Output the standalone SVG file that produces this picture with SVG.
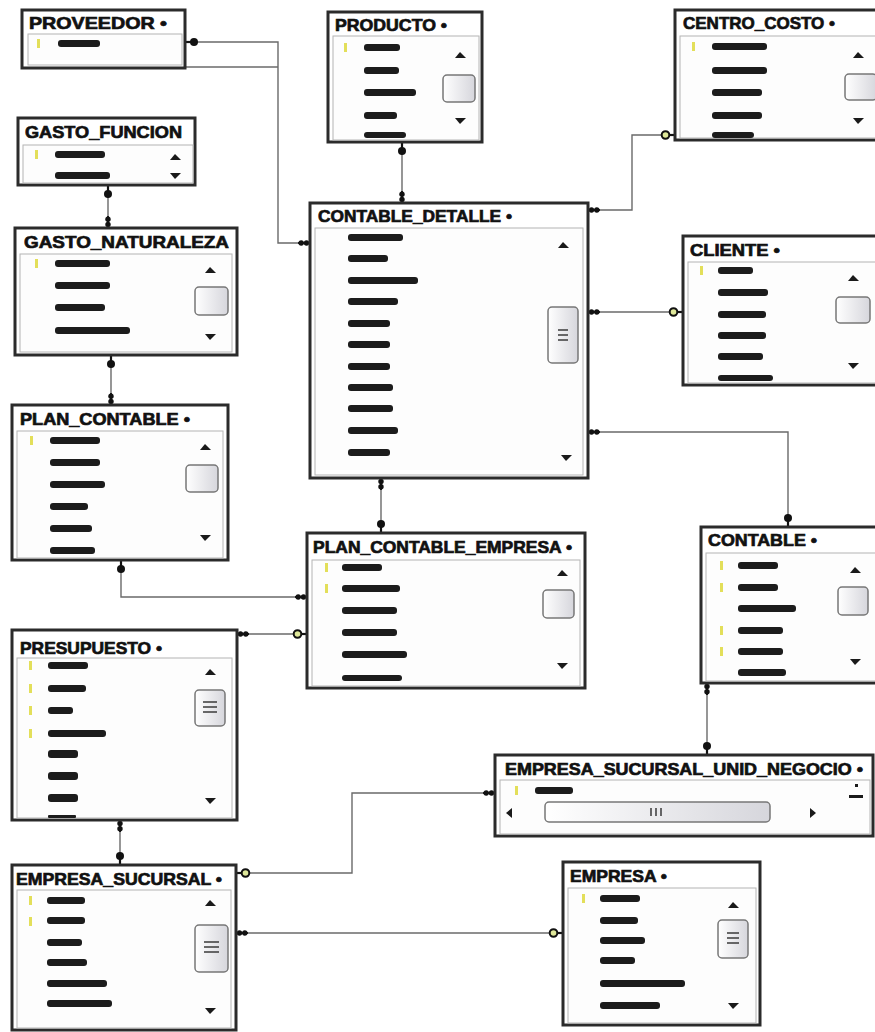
<svg xmlns="http://www.w3.org/2000/svg" width="875" height="1032" viewBox="0 0 875 1032">
<defs>
<style>
.box{fill:#fff;stroke:#2b2b2b;stroke-width:3}
.panel{fill:#fdfdfd;stroke:#b4b4b4;stroke-width:1}
.title{font-family:"Liberation Sans",Arial,sans-serif;font-weight:bold;font-size:17px;fill:#111;stroke:#111;stroke-width:0.7}
.col{fill:#1c1c1c}
.key{fill:#e3df5a}
.arr{fill:#1a1a1a}
.thumb{fill:url(#tg);stroke:#777;stroke-width:1.5}
.grip{stroke:#444;stroke-width:1.6}
.conn{fill:none;stroke:#6a6a6a;stroke-width:1.4;marker-start:url(#keyF);marker-end:url(#inf)}
.connH{fill:none;stroke:#6a6a6a;stroke-width:1.4;marker-start:url(#keyH);marker-end:url(#inf)}
</style>
<linearGradient id="tg" x1="0" y1="0" x2="1" y2="0">
<stop offset="0" stop-color="#ffffff"/>
<stop offset="1" stop-color="#d6d6dc"/>
</linearGradient>
<marker id="keyF" markerUnits="userSpaceOnUse" orient="auto-start-reverse" refX="0" refY="0" markerWidth="1" markerHeight="1" overflow="visible">
<line x1="-6" y1="0" x2="0" y2="0" stroke="#111" stroke-width="2.2"/>
<circle cx="-9" cy="0" r="4" fill="#111"/>
</marker>
<marker id="keyH" markerUnits="userSpaceOnUse" orient="auto-start-reverse" refX="0" refY="0" markerWidth="1" markerHeight="1" overflow="visible">
<line x1="-6" y1="0" x2="0" y2="0" stroke="#111" stroke-width="2.2"/>
<circle cx="-9.5" cy="0" r="3.8" fill="#dfe89a" stroke="#111" stroke-width="2"/>
</marker>
<marker id="inf" markerUnits="userSpaceOnUse" orient="auto" refX="0" refY="0" markerWidth="1" markerHeight="1" overflow="visible">
<line x1="-12" y1="0" x2="0" y2="0" stroke="#111" stroke-width="1.8"/>
<circle cx="-3.5" cy="0" r="2.7" fill="#111"/>
<circle cx="-8.8" cy="0" r="2.7" fill="#111"/>
</marker>
</defs>
<rect width="875" height="1032" fill="#fff"/>

<g id="connectors">
<path class="conn" d="M185,42 H278 V243 H310"/>
<path d="M185,67 H278" fill="none" stroke="#6a6a6a" stroke-width="1.4"/>
<path class="conn" d="M402,142 V203"/>
<path class="connH" d="M675,135 H632 V210 H588"/>
<path class="conn" d="M108,185 V228"/>
<path class="conn" d="M111,355 V405"/>
<path class="connH" d="M683,312 H588"/>
<path class="conn" d="M788,527 V432 H588"/>
<path class="conn" d="M381,533 V478"/>
<path class="conn" d="M121,560 V597 H307"/>
<path class="connH" d="M307,634 H237"/>
<path class="conn" d="M707,755 V683"/>
<path class="conn" d="M120,865 V820"/>
<path class="connH" d="M236,873 H352 V793 H495"/>
<path class="connH" d="M563,933 H236"/>
</g>

<g id="t-proveedor">
<rect class="box" x="22" y="10" width="163" height="58"/>
<text class="title" x="29" y="29" textLength="138" lengthAdjust="spacingAndGlyphs">PROVEEDOR •</text>
<rect class="panel" x="28" y="34" width="154" height="31"/>
<rect class="key" x="37" y="39" width="3" height="9"/>
<rect class="col" x="58" y="40" width="42" height="7" rx="3"/>
</g>

<g id="t-producto">
<rect class="box" x="328" y="12" width="154" height="130"/>
<text class="title" x="335" y="31" textLength="112" lengthAdjust="spacingAndGlyphs">PRODUCTO •</text>
<rect class="panel" x="333" y="36" width="146" height="104"/>
<rect class="key" x="344" y="43" width="3" height="9"/>
<rect class="col" x="364" y="44" width="36" height="7" rx="3"/>
<rect class="col" x="364" y="67" width="35" height="7" rx="3"/>
<rect class="col" x="364" y="89" width="52" height="7" rx="3"/>
<rect class="col" x="364" y="112" width="33" height="7" rx="3"/>
<rect class="col" x="364" y="132" width="42" height="6" rx="3"/>
<path class="arr" d="M455,58 L460,52 L466,58 Z"/>
<rect class="thumb" x="443" y="75" width="32" height="27" rx="4"/>
<path class="arr" d="M455,118 L466,118 L460,124 Z"/>
</g>

<g id="t-centro-costo">
<rect class="box" x="675" y="10" width="205" height="130"/>
<text class="title" x="683" y="29" textLength="152" lengthAdjust="spacingAndGlyphs">CENTRO_COSTO •</text>
<rect class="panel" x="680" y="36" width="197" height="102"/>
<rect class="key" x="692" y="42" width="3" height="9"/>
<rect class="col" x="712" y="43" width="55" height="7" rx="3"/>
<rect class="col" x="712" y="67" width="55" height="7" rx="3"/>
<rect class="col" x="712" y="89" width="50" height="7" rx="3"/>
<rect class="col" x="712" y="112" width="50" height="7" rx="3"/>
<rect class="col" x="712" y="132" width="42" height="6" rx="3"/>
<path class="arr" d="M853,58 L858,52 L864,58 Z"/>
<rect class="thumb" x="845" y="74" width="32" height="26" rx="4"/>
<path class="arr" d="M853,118 L864,118 L858,124 Z"/>
</g>

<g id="t-gasto-funcion">
<rect class="box" x="18" y="118" width="177" height="67"/>
<text class="title" x="25" y="138" textLength="157" lengthAdjust="spacingAndGlyphs">GASTO_FUNCION</text>
<rect class="panel" x="23" y="145" width="170" height="38"/>
<rect class="key" x="35" y="150" width="3" height="9"/>
<rect class="col" x="55" y="151" width="50" height="7" rx="3"/>
<rect class="col" x="55" y="172" width="55" height="7" rx="3"/>
<path class="arr" d="M170,160 L175,154 L181,160 Z"/>
<path class="arr" d="M170,173 L181,173 L175,179 Z"/>
</g>

<g id="t-gasto-naturaleza">
<rect class="box" x="15" y="228" width="222" height="127"/>
<text class="title" x="24" y="248" textLength="205" lengthAdjust="spacingAndGlyphs">GASTO_NATURALEZA</text>
<rect class="panel" x="20" y="254" width="212" height="98"/>
<rect class="key" x="35" y="259" width="3" height="9"/>
<rect class="col" x="55" y="260" width="55" height="7" rx="3"/>
<rect class="col" x="55" y="282" width="55" height="7" rx="3"/>
<rect class="col" x="55" y="304" width="50" height="7" rx="3"/>
<rect class="col" x="55" y="327" width="75" height="7" rx="3"/>
<path class="arr" d="M205,273 L210,267 L216,273 Z"/>
<rect class="thumb" x="195" y="287" width="33" height="28" rx="4"/>
<path class="arr" d="M205,334 L216,334 L210,340 Z"/>
</g>

<g id="t-plan-contable">
<rect class="box" x="12" y="405" width="216" height="155"/>
<text class="title" x="20" y="425" textLength="170" lengthAdjust="spacingAndGlyphs">PLAN_CONTABLE •</text>
<rect class="panel" x="17" y="431" width="206" height="127"/>
<rect class="key" x="30" y="436" width="3" height="9"/>
<rect class="col" x="50" y="437" width="50" height="7" rx="3"/>
<rect class="col" x="50" y="459" width="50" height="7" rx="3"/>
<rect class="col" x="50" y="481" width="55" height="7" rx="3"/>
<rect class="col" x="50" y="503" width="38" height="7" rx="3"/>
<rect class="col" x="50" y="525" width="42" height="7" rx="3"/>
<rect class="col" x="50" y="547" width="45" height="7" rx="3"/>
<path class="arr" d="M200,450 L205,444 L211,450 Z"/>
<rect class="thumb" x="186" y="465" width="32" height="27" rx="4"/>
<path class="arr" d="M200,535 L211,535 L205,541 Z"/>
</g>

<g id="t-contable-detalle">
<rect class="box" x="310" y="203" width="278" height="275"/>
<text class="title" x="318" y="222" textLength="194" lengthAdjust="spacingAndGlyphs">CONTABLE_DETALLE •</text>
<rect class="panel" x="315" y="228" width="268" height="247"/>
<rect class="col" x="348" y="234" width="55" height="7" rx="3"/>
<rect class="col" x="348" y="255" width="40" height="7" rx="3"/>
<rect class="col" x="348" y="277" width="70" height="7" rx="3"/>
<rect class="col" x="348" y="298" width="50" height="7" rx="3"/>
<rect class="col" x="348" y="320" width="42" height="7" rx="3"/>
<rect class="col" x="348" y="341" width="42" height="7" rx="3"/>
<rect class="col" x="348" y="363" width="42" height="7" rx="3"/>
<rect class="col" x="348" y="384" width="45" height="7" rx="3"/>
<rect class="col" x="348" y="405" width="45" height="7" rx="3"/>
<rect class="col" x="348" y="427" width="50" height="7" rx="3"/>
<rect class="col" x="348" y="449" width="42" height="7" rx="3"/>
<path class="arr" d="M558,248 L563,242 L569,248 Z"/>
<rect class="thumb" x="548" y="307" width="30" height="56" rx="4"/>
<line class="grip" x1="558" y1="330" x2="568" y2="330"/>
<line class="grip" x1="558" y1="335" x2="568" y2="335"/>
<line class="grip" x1="558" y1="340" x2="568" y2="340"/>
<path class="arr" d="M561,455 L572,455 L566,461 Z"/>
</g>

<g id="t-cliente">
<rect class="box" x="683" y="236" width="195" height="149"/>
<text class="title" x="690" y="256" textLength="90" lengthAdjust="spacingAndGlyphs">CLIENTE •</text>
<rect class="panel" x="688" y="262" width="189" height="121"/>
<rect class="key" x="700" y="266" width="3" height="9"/>
<rect class="col" x="718" y="267" width="35" height="7" rx="3"/>
<rect class="col" x="718" y="289" width="50" height="7" rx="3"/>
<rect class="col" x="718" y="311" width="48" height="7" rx="3"/>
<rect class="col" x="718" y="332" width="48" height="7" rx="3"/>
<rect class="col" x="718" y="353" width="45" height="7" rx="3"/>
<rect class="col" x="718" y="375" width="55" height="6" rx="3"/>
<path class="arr" d="M848,281 L853,275 L859,281 Z"/>
<rect class="thumb" x="836" y="297" width="34" height="26" rx="4"/>
<path class="arr" d="M848,363 L859,363 L853,369 Z"/>
</g>

<g id="t-plan-contable-empresa">
<rect class="box" x="307" y="533" width="278" height="155"/>
<text class="title" x="313" y="553" textLength="259" lengthAdjust="spacingAndGlyphs">PLAN_CONTABLE_EMPRESA •</text>
<rect class="panel" x="312" y="560" width="268" height="126"/>
<rect class="key" x="325" y="563" width="3" height="9"/>
<rect class="key" x="325" y="584" width="3" height="9"/>
<rect class="col" x="342" y="564" width="40" height="7" rx="3"/>
<rect class="col" x="342" y="585" width="58" height="7" rx="3"/>
<rect class="col" x="342" y="607" width="55" height="7" rx="3"/>
<rect class="col" x="342" y="629" width="55" height="7" rx="3"/>
<rect class="col" x="342" y="651" width="65" height="7" rx="3"/>
<rect class="col" x="342" y="675" width="60" height="6" rx="3"/>
<path class="arr" d="M557,576 L562,570 L568,576 Z"/>
<rect class="thumb" x="543" y="590" width="31" height="28" rx="4"/>
<path class="arr" d="M557,663 L568,663 L562,669 Z"/>
</g>

<g id="t-contable">
<rect class="box" x="701" y="527" width="180" height="156"/>
<text class="title" x="708" y="546" textLength="109" lengthAdjust="spacingAndGlyphs">CONTABLE •</text>
<rect class="panel" x="706" y="553" width="172" height="128"/>
<rect class="key" x="720" y="561" width="3" height="9"/>
<rect class="key" x="720" y="583" width="3" height="9"/>
<rect class="key" x="720" y="626" width="3" height="9"/>
<rect class="key" x="720" y="647" width="3" height="9"/>
<rect class="col" x="738" y="562" width="40" height="7" rx="3"/>
<rect class="col" x="738" y="584" width="40" height="7" rx="3"/>
<rect class="col" x="738" y="605" width="58" height="7" rx="3"/>
<rect class="col" x="738" y="627" width="45" height="7" rx="3"/>
<rect class="col" x="738" y="648" width="45" height="7" rx="3"/>
<rect class="col" x="738" y="669" width="48" height="7" rx="3"/>
<path class="arr" d="M850,573 L855,567 L861,573 Z"/>
<rect class="thumb" x="838" y="587" width="30" height="28" rx="4"/>
<path class="arr" d="M850,659 L861,659 L855,665 Z"/>
</g>

<g id="t-presupuesto">
<rect class="box" x="12" y="630" width="225" height="190"/>
<text class="title" x="20" y="654" textLength="142" lengthAdjust="spacingAndGlyphs">PRESUPUESTO •</text>
<rect class="panel" x="17" y="658" width="215" height="160"/>
<rect class="key" x="29" y="661" width="3" height="9"/>
<rect class="key" x="29" y="684" width="3" height="9"/>
<rect class="key" x="29" y="706" width="3" height="9"/>
<rect class="key" x="29" y="729" width="3" height="9"/>
<rect class="col" x="48" y="662" width="40" height="7" rx="3"/>
<rect class="col" x="48" y="685" width="38" height="7" rx="3"/>
<rect class="col" x="48" y="707" width="25" height="7" rx="3"/>
<rect class="col" x="48" y="730" width="58" height="7" rx="3"/>
<rect class="col" x="48" y="750" width="30" height="8" rx="3"/>
<rect class="col" x="48" y="772" width="30" height="8" rx="3"/>
<rect class="col" x="48" y="794" width="30" height="8" rx="3"/>
<rect class="col" x="48" y="815" width="28" height="3" rx="1"/>
<path class="arr" d="M205,675 L210,669 L216,675 Z"/>
<rect class="thumb" x="195" y="690" width="30" height="36" rx="4"/>
<line class="grip" x1="203" y1="702" x2="217" y2="702"/>
<line class="grip" x1="203" y1="707" x2="217" y2="707"/>
<line class="grip" x1="203" y1="712" x2="217" y2="712"/>
<path class="arr" d="M205,798 L216,798 L210,804 Z"/>
</g>

<g id="t-empresa-sucursal-unid-negocio">
<rect class="box" x="495" y="755" width="378" height="81"/>
<text class="title" x="505" y="775" textLength="358" lengthAdjust="spacingAndGlyphs">EMPRESA_SUCURSAL_UNID_NEGOCIO •</text>
<rect class="panel" x="500" y="780" width="370" height="54"/>
<rect class="key" x="515" y="786" width="3" height="9"/>
<rect class="col" x="535" y="787" width="38" height="7" rx="3"/>
<path class="arr" d="M512,808 L506,813 L512,818 Z"/>
<rect class="thumb" x="545" y="802" width="225" height="20" rx="4"/>
<line class="grip" x1="651" y1="808" x2="651" y2="816"/>
<line class="grip" x1="656" y1="808" x2="656" y2="816"/>
<line class="grip" x1="661" y1="808" x2="661" y2="816"/>
<path class="arr" d="M810,808 L816,813 L810,818 Z"/>
<rect class="arr" x="849" y="795" width="14" height="3"/>
<rect class="arr" x="855" y="784" width="3" height="3"/>
</g>

<g id="t-empresa-sucursal">
<rect class="box" x="12" y="865" width="224" height="165"/>
<text class="title" x="16" y="885" textLength="206" lengthAdjust="spacingAndGlyphs">EMPRESA_SUCURSAL •</text>
<rect class="panel" x="17" y="890" width="214" height="138"/>
<rect class="key" x="29" y="896" width="3" height="9"/>
<rect class="key" x="29" y="917" width="3" height="9"/>
<rect class="col" x="47" y="897" width="38" height="7" rx="3"/>
<rect class="col" x="47" y="917" width="38" height="7" rx="3"/>
<rect class="col" x="47" y="939" width="35" height="7" rx="3"/>
<rect class="col" x="47" y="959" width="40" height="7" rx="3"/>
<rect class="col" x="47" y="980" width="60" height="7" rx="3"/>
<rect class="col" x="47" y="1000" width="65" height="7" rx="3"/>
<path class="arr" d="M205,906 L210,900 L216,906 Z"/>
<rect class="thumb" x="195" y="925" width="33" height="47" rx="4"/>
<line class="grip" x1="204" y1="942" x2="219" y2="942"/>
<line class="grip" x1="204" y1="947" x2="219" y2="947"/>
<line class="grip" x1="204" y1="952" x2="219" y2="952"/>
<path class="arr" d="M205,1008 L216,1008 L210,1014 Z"/>
</g>

<g id="t-empresa">
<rect class="box" x="563" y="862" width="197" height="163"/>
<text class="title" x="570" y="882" textLength="97" lengthAdjust="spacingAndGlyphs">EMPRESA •</text>
<rect class="panel" x="568" y="888" width="188" height="135"/>
<rect class="key" x="582" y="894" width="3" height="9"/>
<rect class="col" x="600" y="895" width="40" height="7" rx="3"/>
<rect class="col" x="600" y="917" width="38" height="7" rx="3"/>
<rect class="col" x="600" y="937" width="45" height="7" rx="3"/>
<rect class="col" x="600" y="957" width="35" height="7" rx="3"/>
<rect class="col" x="600" y="980" width="85" height="7" rx="3"/>
<rect class="col" x="600" y="1002" width="60" height="7" rx="3"/>
<path class="arr" d="M728,908 L733,902 L739,908 Z"/>
<rect class="thumb" x="718" y="920" width="30" height="38" rx="4"/>
<line class="grip" x1="727" y1="933" x2="739" y2="933"/>
<line class="grip" x1="727" y1="938" x2="739" y2="938"/>
<line class="grip" x1="727" y1="943" x2="739" y2="943"/>
<path class="arr" d="M728,1003 L739,1003 L733,1009 Z"/>
</g>
</svg>
